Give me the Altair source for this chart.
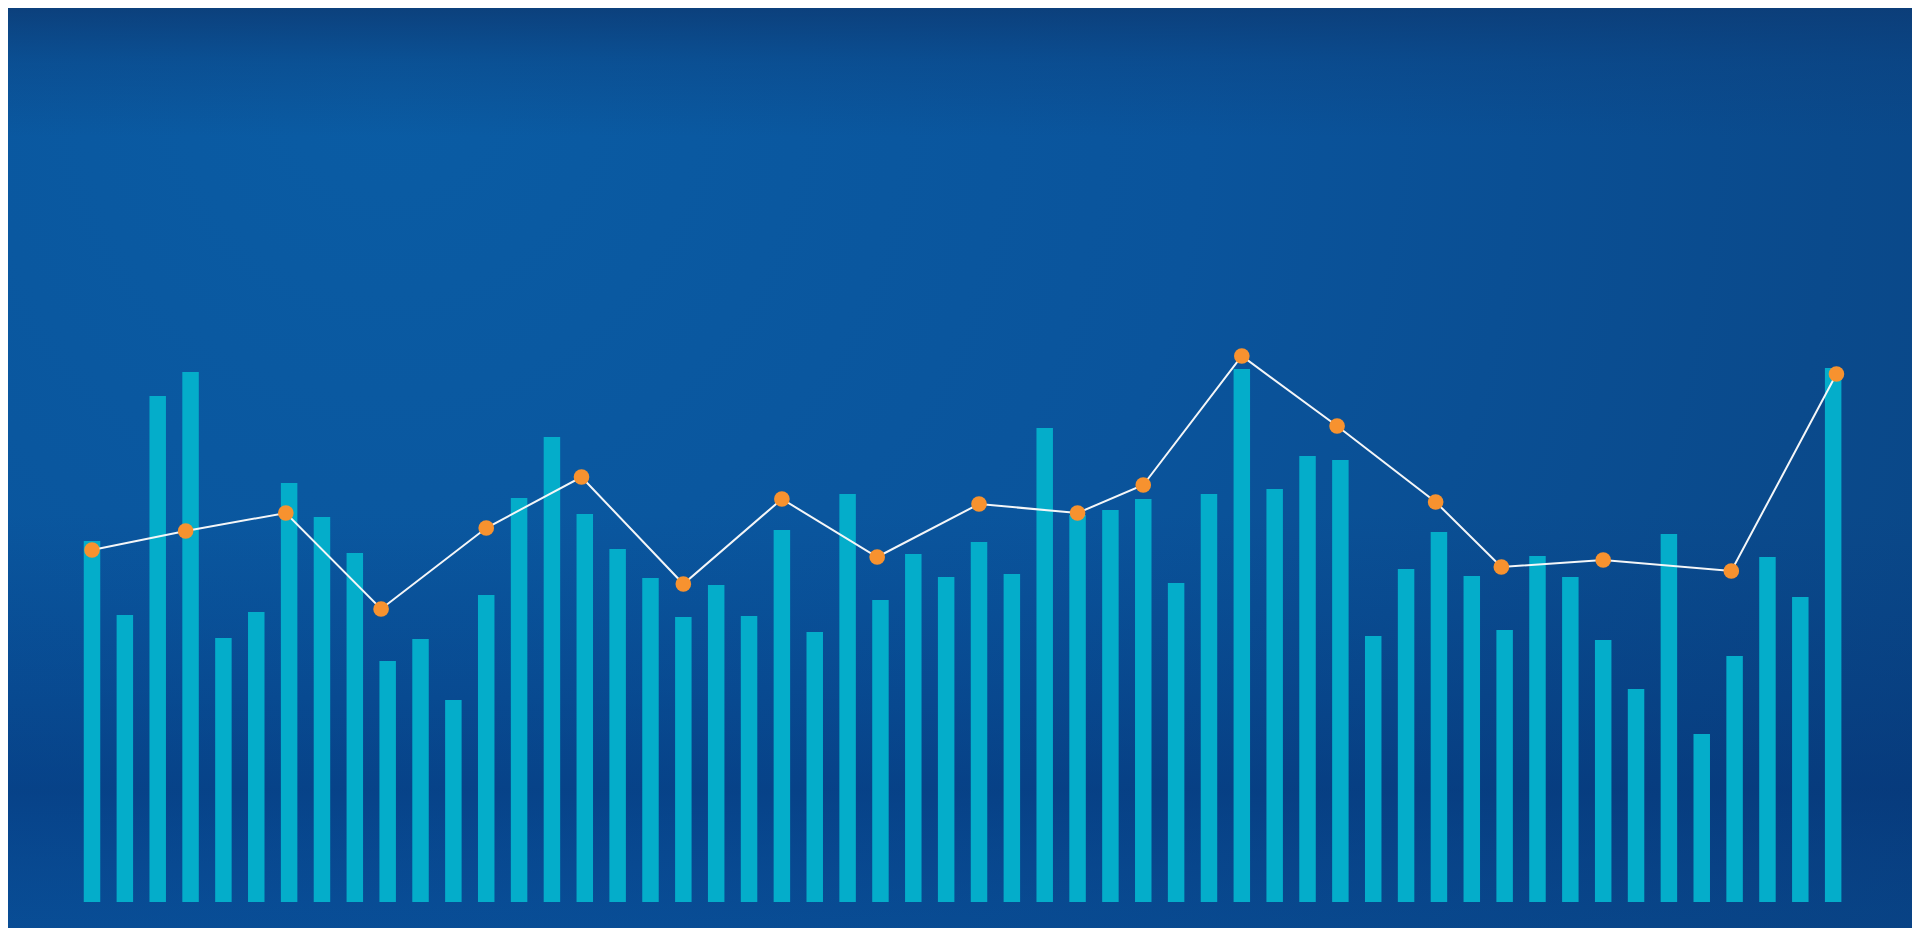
import altair as alt
import pandas as pd

# Bar series (54 bars), heights
bar_index = list(range(54))
bar_values = [361, 287, 506, 530, 264, 290, 419, 385, 349, 241,
              263, 202, 307, 404, 465, 388, 353, 324, 285, 317,
              286, 372, 270, 408, 302, 348, 325, 360, 328, 474,
              387, 392, 403, 319, 408, 533, 413, 446, 442, 266,
              333, 370, 326, 272, 346, 325, 262, 213, 368, 168,
              246, 345, 305, 534]

# Line series (19 points), positions in bar-index units
line_x = [0, 2.85, 5.9, 8.8, 12, 14.9, 18, 21, 23.9, 27,
          30, 32, 35, 37.9, 40.9, 42.9, 46, 49.9, 53.1]
line_values = [352, 371, 389, 293, 374, 425, 318, 403, 345, 398,
               389, 417, 546, 476, 400, 335, 342, 331, 528]

W, H = 1904, 920
X_DOMAIN = [-2.557, 55.40]
Y_DOMAIN = [-26, 894]

bars_df = pd.DataFrame({"i": bar_index, "v": bar_values})
line_df = pd.DataFrame({"x": line_x, "v": line_values})

xs = alt.Scale(domain=X_DOMAIN, nice=False, zero=False)
ys = alt.Scale(domain=Y_DOMAIN, nice=False, zero=False)

one = pd.DataFrame({"k": [0]})

base_bg = alt.Chart(one).mark_rect(
    color={
        "gradient": "radial",
        "x1": 0.2, "y1": 0.3, "r1": 0.0,
        "x2": 0.2, "y2": 0.3, "r2": 0.95,
        "stops": [
            {"offset": 0.0, "color": "#0a5ca4"},
            {"offset": 0.45, "color": "#0a549c"},
            {"offset": 0.8, "color": "#0a4a8c"},
            {"offset": 1.0, "color": "#0a4584"},
        ],
    }
).encode(x=alt.value(0), x2=alt.value(W), y=alt.value(0), y2=alt.value(H))

overlay = alt.Chart(one).mark_rect(
    color={
        "gradient": "linear", "x1": 0, "y1": 0, "x2": 0, "y2": 1,
        "stops": [
            {"offset": 0.0, "color": "rgba(12,60,118,0.85)"},
            {"offset": 0.06, "color": "rgba(12,62,122,0.35)"},
            {"offset": 0.14, "color": "rgba(12,62,122,0.0)"},
            {"offset": 0.55, "color": "rgba(4,50,120,0.0)"},
            {"offset": 0.85, "color": "rgba(3,44,112,0.45)"},
            {"offset": 1.0, "color": "rgba(4,54,130,0.2)"},
        ],
    }
).encode(x=alt.value(0), x2=alt.value(W), y=alt.value(0), y2=alt.value(H))

bars = alt.Chart(bars_df).transform_calculate(
    x0="datum.i - 0.251", x1="datum.i + 0.251"
).mark_bar(color="#04adca").encode(
    x=alt.X("x0:Q", scale=xs, axis=None),
    x2="x1:Q",
    y=alt.Y("v:Q", scale=ys, axis=None),
    y2=alt.datum(0),
)

line = alt.Chart(line_df).mark_line(color="#f4f6f8", strokeWidth=2).encode(
    x=alt.X("x:Q", scale=xs, axis=None),
    y=alt.Y("v:Q", scale=ys, axis=None),
)

dots = alt.Chart(line_df).mark_circle(color="#f7922f", opacity=1, size=245).encode(
    x=alt.X("x:Q", scale=xs, axis=None),
    y=alt.Y("v:Q", scale=ys, axis=None),
)

chart = alt.layer(base_bg, overlay, bars, line, dots).properties(
    width=W, height=H, padding=0, background="#0a4a8c"
).configure_view(stroke=None)

chart.save("out.html", embed_options={"renderer": "svg", "actions": False})
